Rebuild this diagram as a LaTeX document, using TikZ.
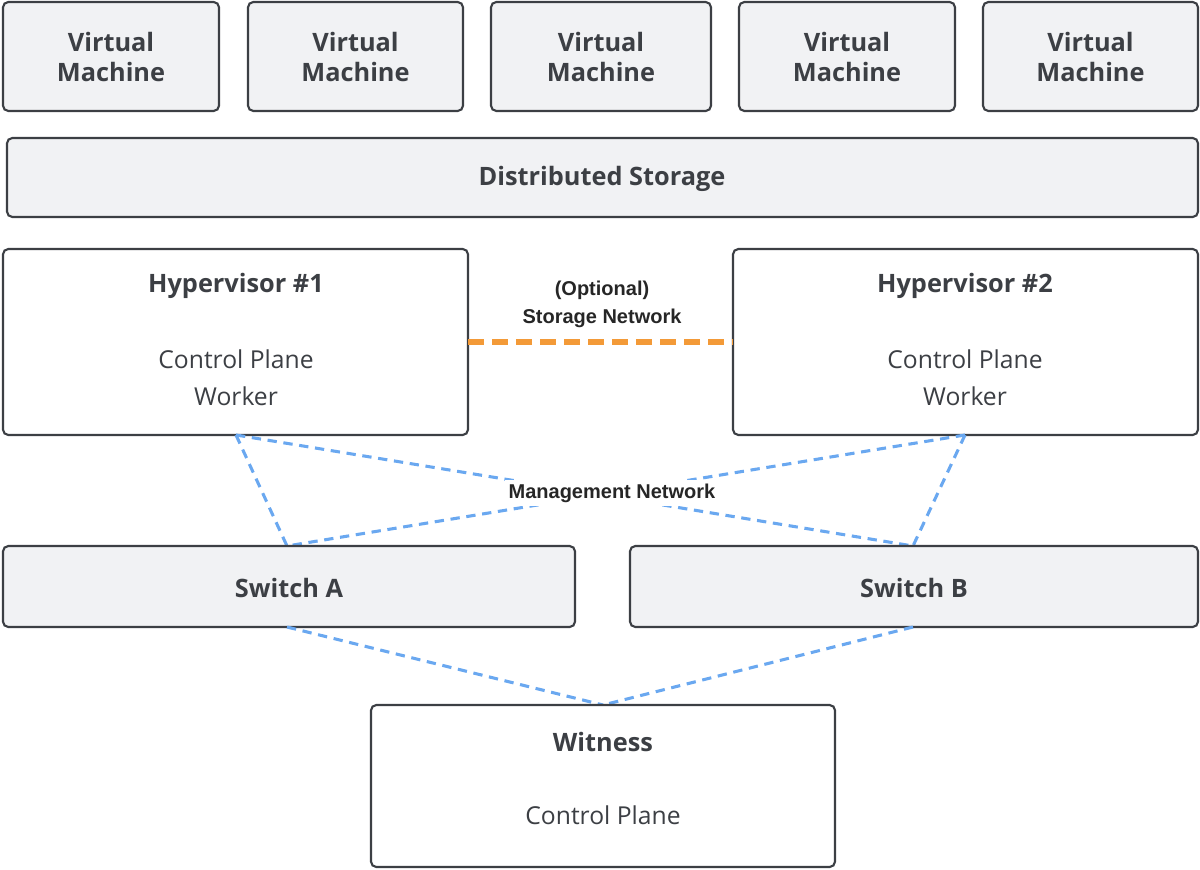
\documentclass[tikz,border=0pt]{standalone}
\usepackage{fontspec}
\setmainfont{Open Sans}
\newfontfamily\lab{Liberation Sans}
\definecolor{bx}{HTML}{F1F2F4}
\definecolor{bd}{HTML}{3C3F44}
\definecolor{bl}{HTML}{6AA8F0}
\definecolor{og}{HTML}{F39A38}
\begin{document}
\begin{tikzpicture}[x=0.75pt,y=-0.75pt,
 gbox/.style={draw=bd,line width=1.6pt,fill=bx,rounded corners=4pt},
 wbox/.style={draw=bd,line width=1.6pt,fill=white,rounded corners=4pt},
 ttl/.style={font=\fontsize{19}{23}\selectfont\bfseries,text=bd,align=center},
 bdy/.style={font=\fontsize{18.5}{28}\selectfont,text=bd,align=center},
 mg/.style={bl,line width=2.3pt,dash pattern=on 7pt off 5pt},
 lbl/.style={font=\lab\fontsize{15}{21}\selectfont\bfseries,text=black!85,align=center}]
\useasboundingbox (0,0) rectangle (1200,870);
\foreach \a/\b/\n in {3/219/1,248/463/2,491/711/3,739/955/4,983/1198/5}{
 \draw[gbox] (\a,2) rectangle (\b,111);
 \node[ttl] (vm\n) at ({(\a+\b)/2},57) {Virtual\\Machine};}
\draw[gbox] (7,138) rectangle (1198,217);
\node[ttl] (ds) at (602,179) {Distributed Storage};
\draw[wbox] (3,249) rectangle (468,435);
\draw[wbox] (733,249) rectangle (1198,435);
\node[ttl] (h1t) at (236,286) {Hypervisor \#1};
\node[bdy] (h1b) at (236,378) {Control Plane\\Worker};
\node[ttl] (h2t) at (965,286) {Hypervisor \#2};
\node[bdy] (h2b) at (965,378) {Control Plane\\Worker};
\coordinate (h1r) at (468,342); \coordinate (h2l) at (733,342);
\draw[og,line width=4.5pt,dash pattern=on 12pt off 6pt] (h1r) -- (h2l);
\node[lbl] (sn) at (602,304) {(Optional)\\Storage Network};
\coordinate (h1) at (236,435); \coordinate (h2) at (965,435);
\coordinate (sa) at (287,546); \coordinate (sb) at (913,546);
\coordinate (sa2) at (287,627); \coordinate (sb2) at (913,627);
\coordinate (w) at (603,705);
\draw[mg] (h1) -- (sa); \draw[mg] (h2) -- (sb);
\draw[mg] (h1) -- (sb); \draw[mg] (h2) -- (sa);
\node[lbl,fill=white,inner sep=3pt] (mn) at (612,493) {Management Network};
\draw[gbox] (3,546) rectangle (575,627);
\draw[gbox] (630,546) rectangle (1198,627);
\node[ttl] (swa) at (289,588) {Switch A};
\node[ttl] (swb) at (914,588) {Switch B};
\draw[mg] (sa2) -- (w); \draw[mg] (sb2) -- (w);
\draw[wbox] (371,705) rectangle (835,867);
\node[ttl] (wt) at (603,742) {Witness};
\node[bdy] (wb) at (603,815) {Control Plane};
\end{tikzpicture}
\end{document}
